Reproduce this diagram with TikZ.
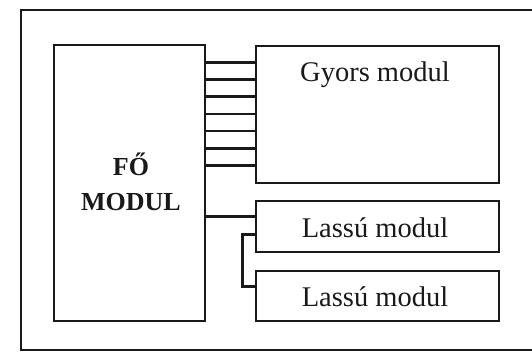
\documentclass[tikz,border=0pt]{standalone}
\usepackage{fontspec}
\setmainfont{Liberation Serif}
\begin{document}
\begin{tikzpicture}[x=1pt,y=-1pt,
  box/.style={draw=black!90,line width=2.8pt,rectangle,inner sep=0pt},
  wire/.style={draw=black!90,line width=2.5pt},
  frame/.style={draw=black!90,line width=2.8pt},
  lbl/.style={font=\fontsize{28.5}{32}\selectfont,inner sep=0pt,text=black!90},
  blbl/.style={font=\fontsize{26}{35}\selectfont\bfseries,inner sep=0pt,align=center,text=black!90}]
\useasboundingbox (0,0) rectangle (532,352);
% outer frame: only top, left and bottom sides are visible
\coordinate (ftr) at (532,10);
\coordinate (ftl) at (21,10);
\coordinate (fbl) at (21,350);
\coordinate (fbr) at (532,350);
\draw[frame] (ftr) -- (ftl) -- (fbl) -- (fbr);
% boxes
\node[box,minimum width=151pt,minimum height=276pt] (fo) at (129.5,183) {};
\node[box,minimum width=243pt,minimum height=137pt] (gyors) at (377.5,114.5) {};
\node[box,minimum width=243pt,minimum height=51pt] (lassu1) at (377.5,226.5) {};
\node[box,minimum width=243pt,minimum height=50pt] (lassu2) at (377.5,296) {};
% texts
\node[blbl] (fotext) at (131,182) {FŐ\\MODUL};
\node[lbl] (gyorstext) at (375,75) {Gyors modul};
\node[lbl] (lassu1text) at (375,228) {Lassú modul};
\node[lbl] (lassu2text) at (375,297) {Lassú modul};
% bus between main and fast module
\foreach \yy in {62.3,79.5,96.7,113.9,131.1,148.3,165.5}
  \draw[wire] (fo.east |- 0,\yy) -- (gyors.west |- 0,\yy);
% connection to slow modules
\draw[wire] (fo.east |- 0,216.7) -- (lassu1.west |- 0,216.7);
\coordinate (k1) at (242.7,234.3);
\coordinate (k2) at (242.7,286.7);
\draw[wire] (lassu1.west |- k1) -- (k1) -- (k2) -- (lassu2.west |- k2);
\end{tikzpicture}
\end{document}
